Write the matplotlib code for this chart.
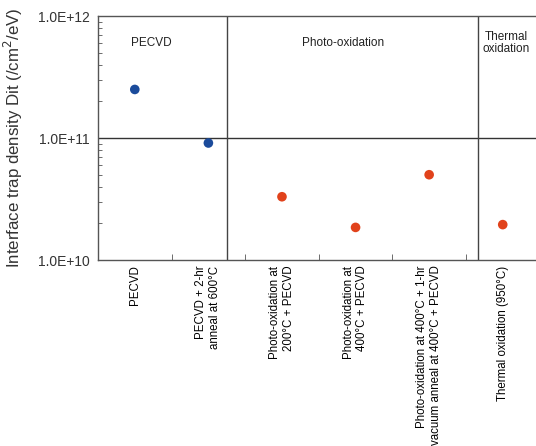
import matplotlib
matplotlib.use("Agg")
import matplotlib.pyplot as plt
import numpy as np

plt.rcParams['font.family'] = ['Liberation Sans', 'DejaVu Sans']

categories = ["PECVD",
              "PECVD + 2-hr\nanneal at 600\u00b0C",
              "Photo-oxidation at\n200\u00b0C + PECVD",
              "Photo-oxidation at\n400\u00b0C + PECVD",
              "Photo-oxidation at 400\u00b0C + 1-hr\nvacuum anneal at 400\u00b0C + PECVD",
              "Thermal oxidation (950\u00b0C)"]
dit = [2.5e11, 9.1e10, 3.3e10, 1.85e10, 5.0e10, 1.95e10]
colors = ["#1b4b9b", "#1b4b9b", "#e1421b", "#e1421b", "#e1421b", "#e1421b"]

groups = ["PECVD", "Photo-oxidation", "Thermal\noxidation"]
group_x = [0.23, 2.83, 5.05]
separators = [1.25, 4.66]

fig = plt.figure(figsize=(5.36, 4.46), dpi=100)
# axes run past the right edge of the picture, like the original crop
ax = fig.add_axes([98/536, 1-260/446, (541-98)/536, 244/446])

x = np.arange(len(categories))
ax.scatter(x, dit, c=colors, s=48, zorder=3, edgecolors='none')

ax.set_yscale('log')
ax.set_ylim(1e10, 1e12)
ax.set_xlim(-0.5, 5.52)
ax.set_yticks([1e10, 1e11, 1e12])
ax.set_yticklabels(["1.0E+10", "1.0E+11", "1.0E+12"], fontsize=10, color='#333333')
ax.tick_params(axis='y', which='major', length=0, pad=6)
ax.tick_params(axis='y', which='minor', direction='in', length=3, width=0.6, color='#555555')

ax.set_xticks(x)
ax.set_xticklabels(categories, rotation=90, fontsize=8.3, va='top', ha='center',
                   multialignment='right')
ax.tick_params(axis='x', which='major', length=0, pad=4)
for lbl in ax.get_xticklabels():
    lbl.set_x(lbl.get_position()[0])
ax.set_xticks(x[:-1] + 0.5, minor=True)
ax.tick_params(axis='x', which='minor', direction='in', length=4, width=0.6, color='#555555')

ax.axhline(1e11, color='#333333', lw=1.0)
for s in separators:
    ax.axvline(s, color='#444444', lw=1.0)

for g, gx in zip(groups, group_x):
    ax.text(gx, 6.0e11, g, ha='center', va='center', fontsize=8.5,
            color='#222222', linespacing=0.95)

for sp in ['top', 'left', 'bottom']:
    ax.spines[sp].set_color('#555555')
    ax.spines[sp].set_linewidth(1.0)
ax.spines['right'].set_visible(False)

ax.set_ylabel("Interface trap density Dit (/cm$^2$/eV)", fontsize=12.2, color='#333333',
              labelpad=9)

fig.savefig("out.png", dpi=100)
